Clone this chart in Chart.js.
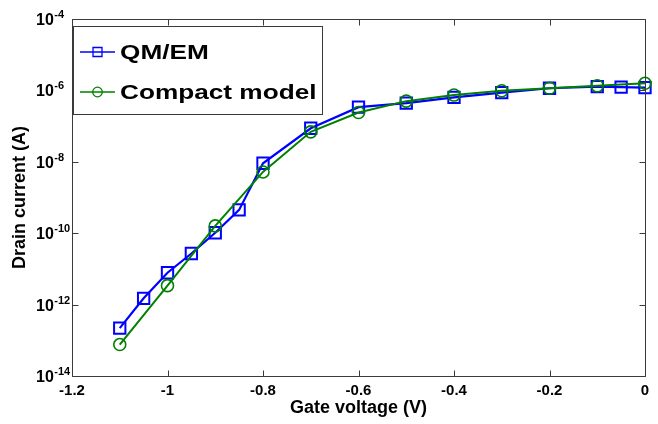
<!DOCTYPE html>
<html>
<head>
<meta charset="utf-8">
<script src="https://cdn.jsdelivr.net/npm/chart.js@4/dist/chart.umd.min.js"></script>
<style>
  html, body { margin: 0; padding: 0; background: #fff; }
  #wrap { width: 658px; height: 424px; }
</style>
</head>
<body>
<div id="wrap"><canvas id="c" width="658" height="424"></canvas></div>
<script>
// ---- data ----
const xQM = [-1.1, -1.05, -1, -0.95, -0.9, -0.85, -0.8, -0.7, -0.6, -0.5, -0.4, -0.3, -0.2, -0.1, -0.05, 0];
const yQM = [2.2e-13, 1.5e-12, 7.8e-12, 2.7e-11, 1.03e-10, 4.5e-10, 9.1e-9, 8.7e-8, 3.4e-7, 4.4e-7, 6.4e-7, 8.7e-7, 1.15e-6, 1.27e-6, 1.24e-6, 1.2e-6];
const xCompact = [-1.1, -1, -0.9, -0.8, -0.7, -0.6, -0.5, -0.4, -0.3, -0.2, -0.1, 0];
const yCompact = [7.6e-14, 3.4e-12, 1.6e-10, 5.2e-9, 6.9e-8, 2.4e-7, 5.0e-7, 7.4e-7, 9.8e-7, 1.15e-6, 1.35e-6, 1.58e-6];
const seriesNames = ['QM/EM', 'Compact model'];
const xTicks = [-1.2, -1, -0.8, -0.6, -0.4, -0.2, 0];
const yTickExponents = [-14, -12, -10, -8, -6, -4];
const xTitle = 'Gate voltage (V)';
const yTitle = 'Drain current (A)';

const BLUE = '#0000ff';
const GREEN = '#008000';
const FRAME = '#3a3a3a';
const FONT = '"Liberation Sans", Arial, Helvetica, sans-serif';

const toPts = (xs, ys) => xs.map((x, i) => ({x: x, y: ys[i]}));

// frame + inward ticks
const framePlugin = {
  id: 'frame',
  afterDatasetsDraw(chart) {
    const {ctx, chartArea: a, scales} = chart;
    ctx.save();
    ctx.strokeStyle = FRAME;
    ctx.lineWidth = 1;
    const L = Math.round(a.left) + 0.5, R = Math.round(a.right) + 0.5;
    const T = Math.round(a.top) + 0.5, B = Math.round(a.bottom) + 0.5;
    ctx.beginPath();
    ctx.rect(L, T, R - L, B - T);
    ctx.stroke();
    const tl = 6;
    ctx.beginPath();
    scales.x.ticks.forEach(t => {
      const px = Math.round(scales.x.getPixelForValue(t.value)) + 0.5;
      ctx.moveTo(px, B); ctx.lineTo(px, B - tl);
      ctx.moveTo(px, T); ctx.lineTo(px, T + tl);
    });
    scales.y.ticks.forEach(t => {
      const py = Math.round(scales.y.getPixelForValue(t.value)) + 0.5;
      ctx.moveTo(L, py); ctx.lineTo(L + tl, py);
      ctx.moveTo(R, py); ctx.lineTo(R - tl, py);
    });
    ctx.stroke();
    ctx.restore();
  },
  afterDraw(chart) {
    const {ctx, scales} = chart;
    // y tick labels 10^e
    ctx.save();
    ctx.fillStyle = '#000';
    ctx.textAlign = 'left';
    ctx.textBaseline = 'alphabetic';
    yTickExponents.forEach(e => {
      const py = scales.y.getPixelForValue(Math.pow(10, e));
      ctx.font = 'bold 16px ' + FONT;
      ctx.fillText('10', 36, py + 6);
      const w = ctx.measureText('10').width;
      ctx.font = 'bold 11px ' + FONT;
      ctx.fillText('-' + Math.abs(e), 36 + w + 0.5, py - 1);
    });
    ctx.restore();

    // legend box
    const bx = 73.5, by = 26.5, bw = 249, bh = 88;
    ctx.save();
    ctx.fillStyle = '#fff';
    ctx.fillRect(bx, by, bw, bh);
    ctx.strokeStyle = FRAME;
    ctx.lineWidth = 1;
    ctx.strokeRect(bx, by, bw, bh);
    const ds = chart.data.datasets;
    const rows = [52, 92];
    ds.forEach((d, i) => {
      const y = rows[i];
      ctx.strokeStyle = d.borderColor;
      ctx.lineWidth = 1.5;
      ctx.beginPath();
      ctx.moveTo(80, y); ctx.lineTo(115, y);
      ctx.stroke();
      ctx.lineWidth = 1.3;
      ctx.beginPath();
      if (d.pointStyle === 'rect') {
        ctx.rect(97.5 - 4.5, y - 4.5, 9, 9);
      } else {
        ctx.arc(97.5, y, 4.8, 0, Math.PI * 2);
      }
      ctx.stroke();
      ctx.save();
      ctx.translate(120, y);
      ctx.scale(1.31, 1);
      ctx.fillStyle = '#000';
      ctx.font = 'bold 20px ' + FONT;
      ctx.textAlign = 'left';
      ctx.textBaseline = 'middle';
      ctx.fillText(d.label, 0, 1);
      ctx.restore();
    });
    ctx.restore();
  }
};

new Chart(document.getElementById('c'), {
  type: 'line',
  data: {
    datasets: [
      {
        label: seriesNames[0],
        data: toPts(xQM, yQM),
        borderColor: BLUE,
        backgroundColor: 'rgba(0,0,0,0)',
        borderWidth: 2.2,
        pointStyle: 'rect',
        pointRadius: 8,
        pointBorderWidth: 2,
        pointBorderColor: BLUE,
        pointBackgroundColor: 'rgba(0,0,0,0)',
        tension: 0,
        clip: false,
        order: 2
      },
      {
        label: seriesNames[1],
        data: toPts(xCompact, yCompact),
        borderColor: GREEN,
        backgroundColor: 'rgba(0,0,0,0)',
        borderWidth: 2,
        pointStyle: 'circle',
        pointRadius: 6,
        pointBorderWidth: 1.6,
        pointBorderColor: GREEN,
        pointBackgroundColor: 'rgba(0,0,0,0)',
        tension: 0,
        clip: false,
        order: 1
      }
    ]
  },
  options: {
    responsive: false,
    animation: false,
    devicePixelRatio: 1,
    layout: { padding: { left: 0, right: 13, top: 19, bottom: 0 } },
    plugins: {
      legend: { display: false },
      tooltip: { enabled: false }
    },
    scales: {
      x: {
        type: 'linear',
        min: -1.2,
        max: 0,
        afterBuildTicks: s => { s.ticks = xTicks.map(v => ({value: v})); },
        afterFit: s => { s.height = 48; },
        grid: { display: false },
        border: { display: false },
        ticks: {
          color: '#000',
          padding: -2,
          maxRotation: 0,
          font: { family: FONT, size: 15, weight: 'bold' },
          callback: v => (Math.abs(v) < 1e-9 ? '0' : String(Math.round(v * 10) / 10))
        },
        title: {
          display: true,
          text: xTitle,
          color: '#000',
          font: { family: FONT, size: 18, weight: 'bold' },
          padding: { top: 0, bottom: 5 }
        }
      },
      y: {
        type: 'logarithmic',
        min: 1e-14,
        max: 1e-4,
        afterBuildTicks: s => { s.ticks = yTickExponents.map(e => ({value: Math.pow(10, e)})); },
        afterFit: s => { s.width = 72; },
        grid: { display: false },
        border: { display: false },
        ticks: { display: false },
        title: {
          display: true,
          text: yTitle,
          color: '#000',
          font: { family: FONT, size: 18, weight: 'bold' },
          padding: { top: 9, bottom: 0 }
        }
      }
    }
  },
  plugins: [framePlugin]
});
</script>
</body>
</html>
